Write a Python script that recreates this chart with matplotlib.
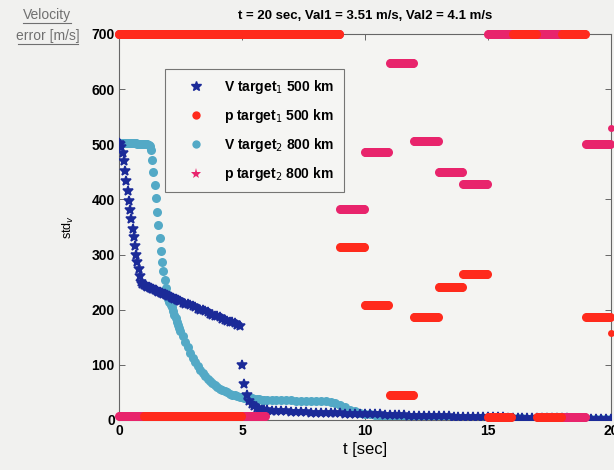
import numpy as np
import matplotlib
matplotlib.use("Agg")
import matplotlib.pyplot as plt
from matplotlib.lines import Line2D

plt.rcParams['font.family'] = ['Liberation Sans', 'DejaVu Sans']

# time grids of the velocity curves
t_v = np.concatenate([np.arange(0, 50) * 0.05,
                      np.arange(25, 60) * 0.1,
                      np.arange(30, 101) * 0.2])

# V target 1 (500 km)
v1 = [503, 500, 495, 485, 470, 452, 434, 415, 398, 381,
      364, 347, 331, 315, 300, 287, 273, 261, 250, 247,
      245, 244, 243, 242, 241, 240, 239, 238, 237, 236,
      235, 234, 233, 232, 231, 230, 229, 228, 227, 226,
      225, 224, 223, 222, 221, 220, 219, 218, 217, 216,
      215, 213, 211, 210, 208, 206, 204, 202, 200, 199,
      197, 195, 193, 191, 189, 188, 186, 184, 182, 180,
      178, 177, 175, 173, 171, 100, 66, 46, 35, 29,
      25, 22, 20, 19, 18,
      18, 17, 17, 16, 16, 15, 15, 14, 14, 13,
      13, 13, 12, 12, 12, 12, 11, 11, 11, 11,
      10, 10, 10, 10, 9, 9, 9, 9, 9, 8,
      8, 8, 8, 7, 7, 7, 7, 7, 6, 6,
      6, 6, 6, 5, 5, 5, 5, 5, 5, 4,
      4, 4, 4, 4, 4, 3, 3, 3, 3, 3,
      3, 3, 2, 2, 2, 2, 2, 2, 2, 1,
      1]

# V target 2 (800 km)
v2 = [503, 503, 503, 503, 503, 503, 503, 503, 502, 502,
      502, 502, 502, 502, 502, 501, 501, 501, 500, 500,
      501, 501, 500, 500, 499, 497, 490, 472, 450, 426,
      402, 378, 353, 330, 307, 287, 270, 254, 240, 228,
      220, 214, 209, 204, 197, 191, 185, 178, 172, 166,
      161, 152, 142, 132, 121, 113, 105, 98, 91, 85,
      80, 75, 71, 67, 63, 60, 57, 55, 52, 50,
      48, 46, 45, 43, 42, 41, 40, 40, 39, 39,
      38, 38, 38, 37, 37,
      37, 37, 36, 36, 36, 36, 35, 35, 35, 35,
      34, 34, 34, 33, 31, 27, 23, 19, 16, 13,
      11, 10, 9, 8, 7, 7, 6, 6, 6, 5,
      5, 5, 5, 5, 4, 4, 4, 4, 4, 4,
      4, 3, 3, 3, 3, 3, 3, 3, 3, 3,
      3, 3, 3, 2, 2, 2, 2, 2, 2, 2,
      2, 2, 2, 2, 2, 2, 2, 2, 2, 2,
      2]

# p targets: one value per second (upper row and lower row)
nan = np.nan
p1_hi = [700, 700, 700, 700, 700, 700, 700, 700, 700, 314,
         209, 45, 187, 242, 264, 5, 700, 5, 700, 187]
p1_lo = [nan, 8, 8, 8, 8, nan, nan, nan, nan, nan,
         nan, nan, nan, nan, nan, nan, nan, nan, nan, nan]
p2_hi = [700, 700, 700, 700, 700, 700, 700, 700, 700, 383,
         486, 648, 506, 450, 428, 700, 700, 700, 5, 501]
p2_lo = [8, 8, 8, 8, 8, 8, nan, nan, nan, nan,
         nan, nan, nan, nan, nan, nan, nan, nan, nan, nan]
p1_end = 158
p2_end = 530

t_p = np.arange(0, 400) * 0.05
def per_second(vals):
    return np.repeat(np.array(vals, dtype=float), 20)

c_v1 = '#1b2a98'
c_v2 = '#53a9c6'
c_p1 = '#ff2a1c'
c_p2 = '#e8246c'

fig = plt.figure(figsize=(6.14, 4.70), dpi=100, facecolor='#f1f1ef')
ax = fig.add_axes([0.1938, 0.1064, 0.8013, 0.8213])
ax.set_facecolor('#f4f4f2')

ax.plot(t_v, v2, 'o', color=c_v2, ms=6.5, mew=0, zorder=2)
ax.plot(t_v, v1, '*', color=c_v1, ms=7.5, mew=1.1, zorder=3)
for lo, hi, end, c in [(p2_lo, p2_hi, p2_end, c_p2),
                       (p1_lo, p1_hi, p1_end, c_p1)]:
    ax.plot(t_p, per_second(hi), 'o', color=c, ms=6.5, mew=0, zorder=4, clip_on=False)
    ax.plot(t_p, per_second(lo), 'o', color=c, ms=6.5, mew=0, zorder=4, clip_on=False)
    ax.plot([20], [end], 'o', color=c, ms=5, mew=0, zorder=4, clip_on=False)

ax.set_xlim(0, 20)
ax.set_ylim(0, 700)
ax.set_xticks([0, 5, 10, 15, 20])
ax.set_yticks(range(0, 701, 100))
ax.tick_params(direction='in', length=4, width=0.7, color='#666666',
               top=True, right=True, labelsize=10, pad=3)
for lab in ax.get_xticklabels() + ax.get_yticklabels():
    lab.set_fontweight('bold')
for sp in ax.spines.values():
    sp.set_color('#666666')
    sp.set_linewidth(0.8)

ax.set_title('t = 20 sec, Val1 = 3.51 m/s, Val2 = 4.1 m/s',
             fontsize=9.5, fontweight='bold', pad=11)
ax.set_xlabel('t [sec]', fontsize=12, labelpad=3)
ax.set_ylabel('std$_v$', fontsize=9, labelpad=11)

handles = [Line2D([], [], ls='none', marker='*', color=c_v1, ms=7),
           Line2D([], [], ls='none', marker='o', color=c_p1, ms=6, mew=0),
           Line2D([], [], ls='none', marker='o', color=c_v2, ms=6, mew=0),
           Line2D([], [], ls='none', marker='*', color=c_p2, ms=8, mew=0)]
labels = ['V target$_1$ 500 km', 'p target$_1$ 500 km',
          'V target$_2$ 800 km', 'p target$_2$ 800 km']
leg = ax.legend(handles, labels, loc='upper left', bbox_to_anchor=(0.0935, 0.909),
                borderaxespad=0, frameon=True, fancybox=False,
                handlelength=3.2, handletextpad=0.4, labelspacing=0.8, borderpad=0.65,
                prop={'weight': 'bold', 'size': 10})
leg.get_frame().set_edgecolor('#555555')
leg.get_frame().set_linewidth(0.8)
leg.get_frame().set_facecolor('#f6f6f4')
leg.set_zorder(10)

# handwritten-style axis caption
fig.text(0.077, 0.968, 'Velocity', fontsize=10, color='#707070', ha='center', va='center')
fig.text(0.078, 0.923, 'error [m/s]', fontsize=10, color='#707070', ha='center', va='center')
fig.add_artist(Line2D([0.038, 0.116], [0.952, 0.952], color='#707070', lw=0.8))
fig.add_artist(Line2D([0.030, 0.127], [0.907, 0.907], color='#707070', lw=0.8))

fig.savefig('out.png', dpi=100, facecolor=fig.get_facecolor())
